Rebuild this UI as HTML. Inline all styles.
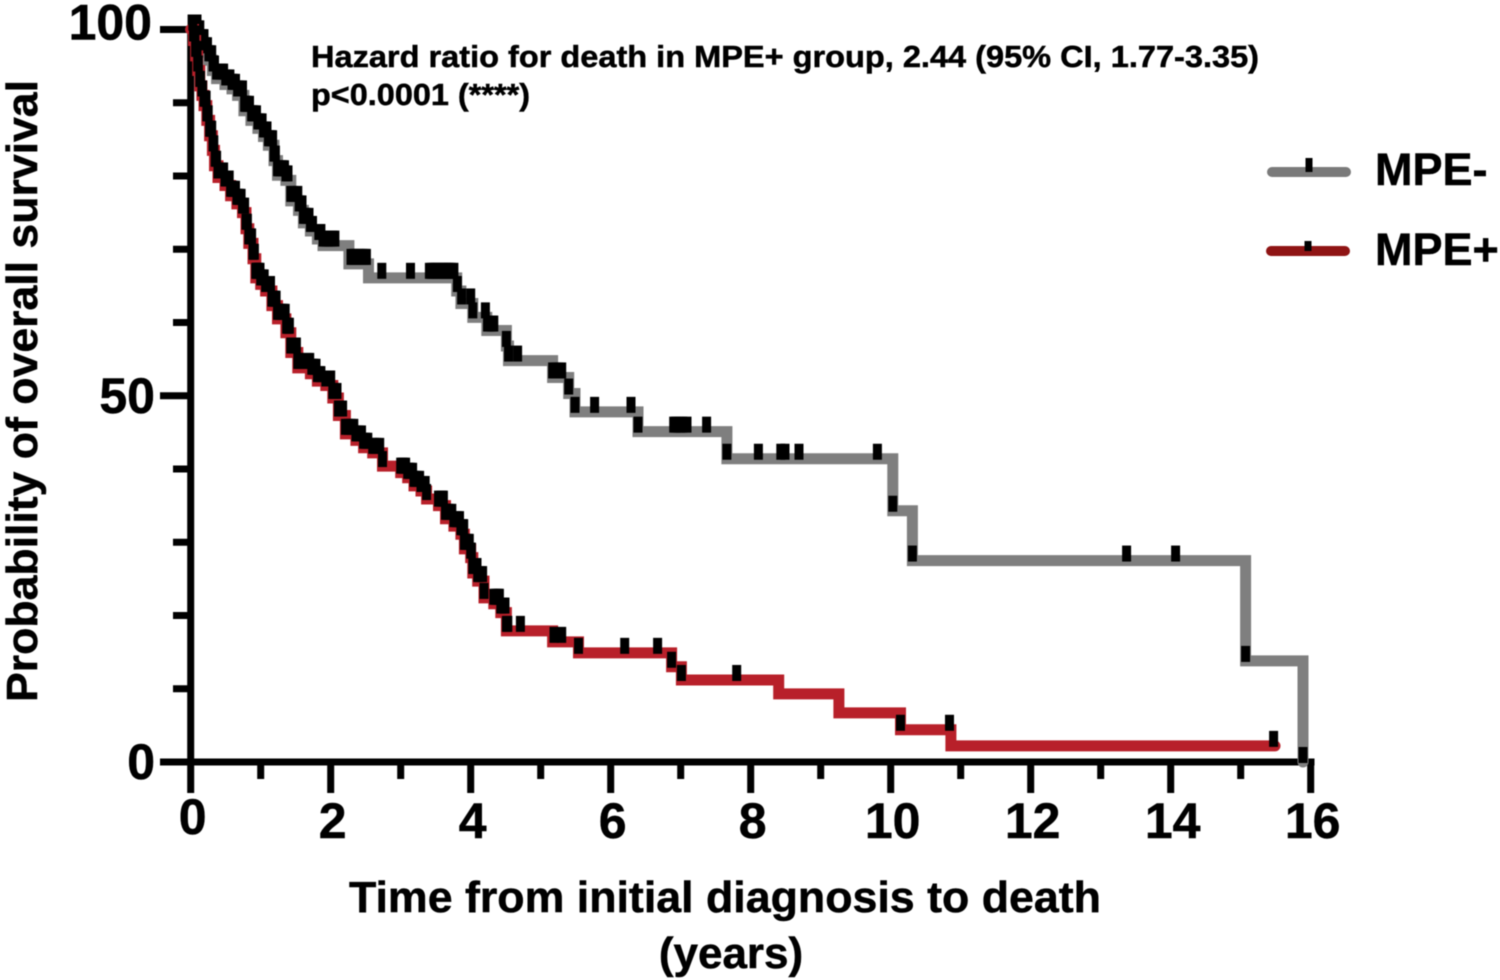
<!DOCTYPE html>
<html lang="en">
<head>
<meta charset="utf-8">
<title>Overall survival by MPE status</title>
<style>
html,body{margin:0;padding:0;background:#fff;width:1500px;height:980px;overflow:hidden}
svg{display:block;filter:blur(0.5px)}
text{font-family:"Liberation Sans",Arial,sans-serif;font-weight:700;fill:#000;stroke:#000;stroke-width:0.5px}
</style>
</head>
<body>
<svg id="chart" width="1500" height="980" viewBox="0 0 1500 980">
  <g id="axes"></g>
  <g id="series"></g>
  <text x="311" y="67" font-size="31" textLength="948" lengthAdjust="spacingAndGlyphs">Hazard ratio for death in MPE+ group, 2.44 (95% CI, 1.77-3.35)</text>
  <text x="311" y="105" font-size="31" textLength="219" lengthAdjust="spacingAndGlyphs">p&lt;0.0001 (****)</text>
  <text transform="translate(37,702) rotate(-90)" font-size="44" textLength="622" lengthAdjust="spacingAndGlyphs">Probability of overall survival</text>
  <text x="349" y="912" font-size="44" textLength="752" lengthAdjust="spacingAndGlyphs">Time from initial diagnosis to death</text>
  <text x="731" y="968" font-size="44" text-anchor="middle">(years)</text>
  <g>
    <line x1="1272" y1="172" x2="1346" y2="172" stroke="#7a7a7a" stroke-width="10" stroke-linecap="round"/>
    <rect x="1305.5" y="158" width="7" height="14" fill="#000"/>
    <text x="1375" y="185" font-size="45">MPE-</text>
  </g>
  <g>
    <line x1="1271" y1="251" x2="1345" y2="251" stroke="#8f1414" stroke-width="10" stroke-linecap="round"/>
    <rect x="1304.5" y="241" width="7" height="10" fill="#000"/>
    <text x="1375" y="265" font-size="45">MPE+</text>
  </g>
</svg>
<script>
const xMajorTicks = [0, 2, 4, 6, 8, 10, 12, 14, 16];
const xMinorTicks = [1, 3, 5, 7, 9, 11, 13, 15];
const yMajorTicks = [0, 50, 100];
const yMinorTicks = [10, 20, 30, 40, 60, 70, 80, 90];

const grayTimes = [0, 0.10, 0.14, 0.20, 0.26, 0.31, 0.37, 0.49, 0.59, 0.67, 0.76, 0.86, 0.96, 1.04, 1.11, 1.19, 1.24, 1.36, 1.43, 1.54, 1.61, 1.71, 1.81, 1.89, 2.26, 2.54, 3.80, 3.86, 4.03, 4.23, 4.51, 4.54, 5.17, 5.40, 5.49, 6.39, 7.66, 10.03, 10.31, 15.07, 15.89];
const graySurvival = [100, 99.2, 98.0, 96.9, 95.8, 94.4, 93.3, 92.5, 91.9, 91.0, 88.9, 87.6, 86.5, 85.4, 84.2, 82.1, 80.1, 79.4, 76.6, 75.3, 73.6, 72.5, 71.4, 70.5, 68.0, 66.1, 64.3, 62.6, 60.7, 58.9, 56.8, 54.8, 52.5, 50.3, 47.8, 45.1, 41.4, 34.3, 27.5, 13.8, 0];
const grayEnd = 15.89;
const grayCensored = [0.02, 0.04, 0.06, 0.09, 0.11, 0.13, 0.15, 0.17, 0.19, 0.21, 0.24, 0.26, 0.28, 0.30, 0.32, 0.34, 0.37, 0.39, 0.42, 0.44, 0.47, 0.50, 0.53, 0.56, 0.59, 0.61, 0.64, 0.67, 0.69, 0.71, 0.74, 0.77, 0.79, 0.81, 0.84, 0.87, 0.89, 0.91, 0.94, 0.96, 0.98, 1.00, 1.02, 1.04, 1.07, 1.09, 1.11, 1.13, 1.15, 1.17, 1.19, 1.21, 1.24, 1.26, 1.28, 1.30, 1.32, 1.34, 1.36, 1.39, 1.43, 1.47, 1.53, 1.55, 1.57, 1.59, 1.61, 1.64, 1.66, 1.69, 1.71, 1.74, 1.83, 1.86, 1.89, 1.92, 1.94, 1.97, 2.00, 2.03, 2.06, 2.29, 2.32, 2.34, 2.37, 2.40, 2.43, 2.46, 2.49, 2.51, 2.73, 3.14, 3.41, 3.44, 3.47, 3.50, 3.53, 3.57, 3.60, 3.63, 3.66, 3.69, 3.72, 3.76, 3.81, 3.87, 4.00, 4.03, 4.21, 4.24, 4.26, 4.29, 4.31, 4.33, 4.51, 4.54, 4.67, 5.17, 5.20, 5.23, 5.26, 5.30, 5.40, 5.49, 5.77, 6.29, 6.39, 6.90, 6.93, 6.97, 7.00, 7.03, 7.09, 7.37, 7.66, 8.11, 8.43, 8.49, 8.69, 9.81, 10.03, 10.31, 13.37, 14.07, 15.07, 15.89];

const redTimes = [0, 0.04, 0.07, 0.10, 0.13, 0.16, 0.19, 0.23, 0.27, 0.31, 0.34, 0.39, 0.49, 0.57, 0.66, 0.74, 0.79, 0.83, 0.89, 0.93, 1.00, 1.07, 1.16, 1.24, 1.36, 1.43, 1.53, 1.71, 1.81, 1.93, 2.03, 2.11, 2.21, 2.36, 2.47, 2.60, 2.74, 3.00, 3.10, 3.19, 3.29, 3.37, 3.54, 3.64, 3.76, 3.86, 3.91, 4.00, 4.03, 4.10, 4.19, 4.33, 4.43, 4.51, 5.17, 5.54, 6.87, 7.01, 8.40, 9.26, 10.14, 10.86];
const redSurvival = [100, 98.5, 96.4, 94.4, 92.3, 91.0, 89.6, 87.6, 85.5, 83.5, 81.4, 79.8, 78.7, 77.3, 76.2, 75.0, 72.8, 70.8, 68.7, 66.1, 65.2, 64.3, 62.3, 60.5, 58.6, 55.9, 53.8, 53.0, 52.0, 51.4, 49.7, 47.3, 44.8, 43.9, 42.9, 42.2, 40.4, 39.5, 38.8, 37.7, 37.0, 35.9, 35.0, 33.2, 32.2, 31.1, 29.1, 27.9, 25.8, 24.7, 22.4, 21.6, 20.4, 17.9, 16.4, 14.9, 13.0, 11.2, 9.3, 6.7, 4.4, 2.2];
const redEnd = 15.49;
const redCensored = [0.03, 0.04, 0.06, 0.07, 0.09, 0.10, 0.11, 0.13, 0.14, 0.16, 0.17, 0.19, 0.20, 0.22, 0.23, 0.25, 0.27, 0.29, 0.30, 0.32, 0.33, 0.35, 0.37, 0.39, 0.40, 0.42, 0.44, 0.47, 0.49, 0.51, 0.53, 0.55, 0.57, 0.59, 0.61, 0.64, 0.66, 0.68, 0.70, 0.72, 0.74, 0.77, 0.79, 0.81, 0.83, 0.85, 0.87, 0.89, 0.91, 0.93, 0.94, 0.96, 0.97, 0.99, 1.00, 1.02, 1.03, 1.05, 1.07, 1.09, 1.11, 1.14, 1.16, 1.18, 1.20, 1.22, 1.24, 1.27, 1.29, 1.31, 1.33, 1.35, 1.37, 1.39, 1.41, 1.43, 1.44, 1.47, 1.49, 1.51, 1.53, 1.55, 1.57, 1.67, 1.70, 1.73, 1.76, 1.79, 1.81, 1.84, 1.86, 1.93, 1.95, 1.97, 2.00, 2.03, 2.05, 2.06, 2.09, 2.11, 2.13, 2.14, 2.17, 2.21, 2.25, 2.29, 2.33, 2.36, 2.39, 2.41, 2.44, 2.47, 2.50, 2.53, 2.60, 2.63, 2.66, 2.70, 2.74, 3.00, 3.02, 3.04, 3.07, 3.10, 3.12, 3.14, 3.17, 3.19, 3.21, 3.24, 3.27, 3.29, 3.31, 3.33, 3.35, 3.37, 3.54, 3.57, 3.59, 3.61, 3.64, 3.66, 3.69, 3.73, 3.76, 3.79, 3.81, 3.84, 3.86, 3.88, 3.89, 3.90, 3.91, 3.93, 3.96, 3.98, 4.00, 4.01, 4.03, 4.05, 4.07, 4.09, 4.10, 4.12, 4.14, 4.17, 4.19, 4.33, 4.36, 4.39, 4.41, 4.43, 4.45, 4.47, 4.49, 4.51, 4.53, 4.71, 5.19, 5.30, 5.54, 6.20, 6.67, 6.87, 7.01, 7.80, 10.14, 10.84, 15.47];

const NS = 'http://www.w3.org/2000/svg';
function xScale(t) { return 190.7 + 70 * t; }
function yScale(s) { return 762 - 7.325 * s; }

function stepValue(times, values, t) {
  let v = values[0];
  for (let i = 0; i < times.length; i++) {
    if (times[i] <= t) v = values[i];
  }
  return v;
}

function stepPath(times, values, end) {
  let d = 'M' + xScale(times[0]) + ' ' + yScale(values[0]);
  for (let i = 1; i < times.length; i++) {
    d += 'H' + xScale(times[i]) + 'V' + yScale(values[i]);
  }
  if (end > times[times.length - 1]) d += 'H' + xScale(end);
  return d;
}

function makeRect(parent, x, y, w, h, fill) {
  const r = document.createElementNS(NS, 'rect');
  r.setAttribute('x', x);
  r.setAttribute('y', y);
  r.setAttribute('width', w);
  r.setAttribute('height', h);
  r.setAttribute('fill', fill);
  parent.appendChild(r);
  return r;
}

function makeText(parent, x, y, label, anchor) {
  const t = document.createElementNS(NS, 'text');
  t.setAttribute('x', x);
  t.setAttribute('y', y);
  t.setAttribute('font-size', '50');
  t.setAttribute('text-anchor', anchor);
  t.textContent = label;
  parent.appendChild(t);
  return t;
}

const axes = document.getElementById('axes');

const yAxisLine = makeRect(axes, 187.2, 26, 7, 739, '#000');



const xAxisLine = makeRect(axes, 160, 758.5, 1154.5, 7, '#000');



xMajorTicks.forEach(function (v) {
  const tick = makeRect(axes, xScale(v) - 3.5, 762, 7, 31, '#000');
  
  
  const label = makeText(axes, xScale(v) + 2, v === 0 ? 834 : 838, String(v), 'middle');
  
  
});

xMinorTicks.forEach(function (v) {
  const tick = makeRect(axes, xScale(v) - 3.5, 762, 7, 17, '#000');
  
  
});

yMajorTicks.forEach(function (v) {
  const tick = makeRect(axes, 160, yScale(v) - 3.5, 31, 7, '#000');
  
  
  const label = makeText(axes, v === 100 ? 152 : 155, yScale(v) + (v === 100 ? 10 : 17), String(v), 'end');
  
  
});

yMinorTicks.forEach(function (v) {
  const tick = makeRect(axes, 173, yScale(v) - 3.5, 18, 7, '#000');
  
  
});

const seriesGroup = document.getElementById('series');

const grayLine = document.createElementNS(NS, 'path');
grayLine.setAttribute('d', stepPath(grayTimes, graySurvival, grayEnd));
grayLine.setAttribute('fill', 'none');
grayLine.setAttribute('stroke', '#7f7f7f');
grayLine.setAttribute('stroke-width', '11');
grayLine.setAttribute('stroke-linecap', 'round');


seriesGroup.appendChild(grayLine);

grayCensored.forEach(function (t) {
  const y = yScale(stepValue(grayTimes, graySurvival, t));
  const mark = makeRect(seriesGroup, xScale(t) - 4.5, y - 15, 9, 16, '#000');
  
  
});

const redLine = document.createElementNS(NS, 'path');
redLine.setAttribute('d', stepPath(redTimes, redSurvival, redEnd));
redLine.setAttribute('fill', 'none');
redLine.setAttribute('stroke', '#b8202a');
redLine.setAttribute('stroke-width', '11');
redLine.setAttribute('stroke-linecap', 'round');


seriesGroup.appendChild(redLine);

redCensored.forEach(function (t) {
  const y = yScale(stepValue(redTimes, redSurvival, t));
  const mark = makeRect(seriesGroup, xScale(t) - 4.5, y - 15, 9, 16, '#000');
  
  
});
</script>
</body>
</html>
